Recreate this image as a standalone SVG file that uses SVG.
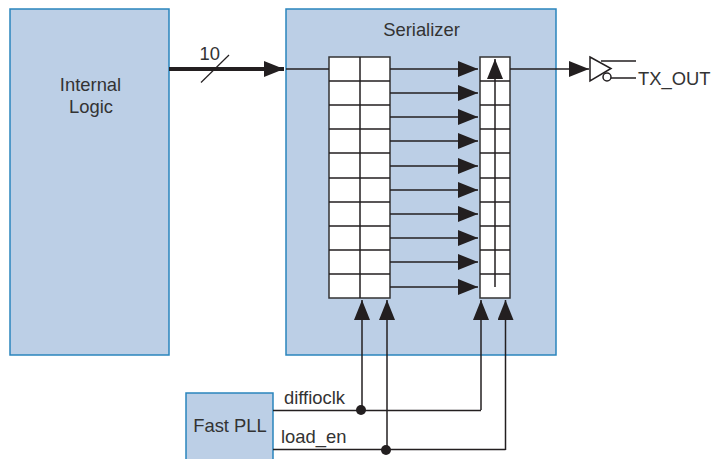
<svg xmlns="http://www.w3.org/2000/svg" width="718" height="459" viewBox="0 0 718 459">
<defs>
<marker id="ah" markerUnits="userSpaceOnUse" markerWidth="20" markerHeight="16" refX="20" refY="8" orient="auto"><path d="M0 0L20 8L0 16Z" fill="#231f20"/></marker>
</defs>
<style>
.blk{fill:#bccfe6;stroke:#2a85bd;stroke-width:1.5}
.cell{fill:#fff;stroke:#333;stroke-width:1.5}
.ln{fill:none;stroke:#231f20;stroke-width:1.5}
.ar{fill:none;stroke:#231f20;stroke-width:1.5;marker-end:url(#ah)}
.t{font-family:"Liberation Sans",Arial,sans-serif;font-size:18.4px;fill:#333}
.m{text-anchor:middle}
</style>
<rect width="718" height="459" fill="#fff"/>
<g id="internal-logic"><rect class="blk" x="10" y="9" width="159" height="346"/><text class="t m" x="90.500" y="91">Internal</text><text class="t m" x="91" y="113">Logic</text></g>
<g id="serializer"><rect class="blk" x="286" y="9" width="270" height="346"/><text class="t m" x="421.500" y="36">Serializer</text></g>
<g id="fast-pll"><path class="blk" d="M186 459V393H273V459"/><text class="t m" x="230" y="432">Fast PLL</text></g>
<g id="parallel-register">
<path class="cell" d="M329 57H390V298H329Z"/>
<path class="ln" d="M360 57V298M329 81H390M329 105H390M329 129H390M329 153H390M329 178H390M329 202H390M329 226H390M329 250H390M329 274H390"/>
</g>
<g id="shift-register">
<path class="cell" d="M480 57H510V298H480Z"/>
<path class="ln" d="M480 81H510M480 105H510M480 129H510M480 153H510M480 178H510M480 202H510M480 226H510M480 250H510M480 274H510"/>
</g>
<g id="tx-buffer">
<path d="M590 57L611 68.500L590 81Z" fill="none" stroke="#231f20" stroke-width="1.500"/>
<circle cx="607" cy="77" r="4" fill="none" stroke="#231f20" stroke-width="1.500"/>
<path class="ln" d="M601 61H636M611 78H636"/>
<text class="t" x="638" y="85">TX_OUT</text>
</g>
<g id="connectors">
<path d="M169 69H284" fill="none" stroke="#231f20" stroke-width="4" marker-end="url(#ah)"/>
<path class="ln" d="M286 69H329"/>
<path d="M201 82.500L229 55" fill="none" stroke="#231f20" stroke-width="1.200"/>
<text class="t" x="199.500" y="60">10</text>
<path class="ar" d="M390 69H478"/><path class="ar" d="M390 93H478"/><path class="ar" d="M390 117H478"/><path class="ar" d="M390 141H478"/><path class="ar" d="M390 166H478"/><path class="ar" d="M390 190H478"/><path class="ar" d="M390 214H478"/><path class="ar" d="M390 238H478"/><path class="ar" d="M390 262H478"/><path class="ar" d="M390 287H478"/>
<path class="ar" d="M495 287V59"/>
<path class="ar" d="M510 69H589"/>
<path class="ar" d="M362 410V300"/><path class="ar" d="M387 450V300"/><path class="ar" d="M481 410V300"/><path class="ar" d="M505.500 450V300"/>
<path class="ln" d="M273 410.500H481M273 449.500H505.500"/>
<circle cx="361" cy="410" r="5" fill="#231f20"/><circle cx="386" cy="450" r="5" fill="#231f20"/>
<text class="t" x="284" y="404">diffioclk</text>
<text class="t" x="281" y="443">load_en</text>
</g>
</svg>
